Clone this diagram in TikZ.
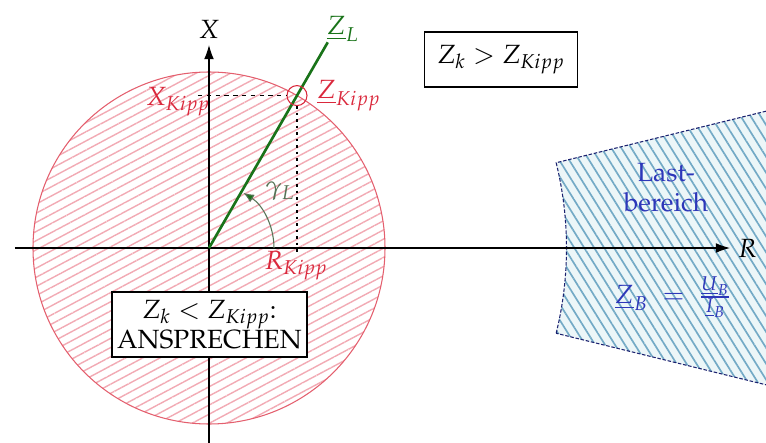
\documentclass[tikz,border=0pt]{standalone}
\usepackage[T1]{fontenc}
\usepackage{mathpazo}
\usetikzlibrary{positioning,arrows.meta,patterns.meta}
\definecolor{kipprot}{RGB}{218,40,60}
\definecolor{kreisrot}{RGB}{228,95,110}
\definecolor{schraffrot}{RGB}{242,170,180}
\definecolor{lgruen}{RGB}{25,115,25}
\definecolor{wgruen}{RGB}{85,115,85}
\definecolor{lastblau}{RGB}{45,55,185}
\definecolor{schraffblau}{RGB}{115,170,198}
\definecolor{grundblau}{RGB}{236,246,248}
\tikzset{
  achse/.style={draw=black, line width=0.6pt, -{Latex[length=8pt,width=5.5pt]}},
  kasten/.style={draw=black, fill=white, line width=0.7pt, align=center, inner sep=3pt},
  kreisfeld/.style={draw=kreisrot, line width=0.6pt,
    preaction={fill=white},
    pattern={Lines[angle=28,distance=4.6pt,line width=0.8pt]}, pattern color=schraffrot},
  lastfeld/.style={preaction={fill=grundblau},
    pattern={Lines[angle=-58,distance=4.8pt,line width=0.95pt]}, pattern color=schraffblau,
    postaction={draw=lastblau!60!black, line width=0.6pt, dash pattern=on 2pt off 1pt}},
  hilfslinie/.style={draw=black, line width=0.6pt, dash pattern=on 2.5pt off 2.5pt},
  punktlinie/.style={draw=black, line width=0.7pt, dash pattern=on 1.5pt off 2.2pt},
  rotlabel/.style={text=kipprot},
}

\begin{document}
\begin{tikzpicture}[font=\fontsize{15}{17}\selectfont]
  \useasboundingbox (-4.18,-3.9) rectangle (11.14,4.96);
  \coordinate (O) at (0,0);
  % Ansprechbereich (Kreis) und Lastbereich
  \path[kreisfeld] (O) circle [radius=3.52];
  \begin{scope}
    \clip (-4.18,-3.9) rectangle (11.14,4.96);
    \path[lastfeld] (-13.8:7.15) arc [start angle=-13.8, end angle=13.8, radius=7.15]
      -- (13.8:13) -- (-13.8:13) -- cycle;
  \end{scope}
  % Achsen
  \coordinate (xunten) at (0,-3.95);
  \coordinate (xoben) at (0,4.06);
  \coordinate (rlinks) at (-3.88,0);
  \coordinate (rrechts) at (10.42,0);
  \draw[achse] (xunten) -- (xoben);
  \draw[achse] (rlinks) -- (rrechts);
  \node (xlab) at (0,4.38) {$X$};
  \node[right=1pt of rrechts] (rlab) {$R$};
  % Leitungsgerade und Kipppunkt
  \coordinate (zlend) at (60:4.75);
  \draw[lgruen, line width=1.5pt] (O) -- (zlend);
  \node[above right=-3pt and -4pt of zlend, text=lgruen] (zllab) {$\underline{Z}_L$};
  \node[circle, draw=kipprot, line width=0.6pt, minimum size=0.4cm, inner sep=0pt] (zk) at (60:3.52) {};
  \node[right=2pt of zk, rotlabel] (zklab) {$\underline{Z}_{Kipp}$};
  \coordinate (xk) at (-0.22,0 |- zk.west);
  \coordinate (rk) at (zk.south |- O);
  \draw[hilfslinie] (xk) -- (zk.west);
  \draw[punktlinie] (zk.south) -- ([yshift=-3pt]rk);
  \node[rotlabel] (xklab) at (-0.62,2.92) {$X_{Kipp}$};
  \node[rotlabel] (rklab) at (1.74,-0.36) {$R_{Kipp}$};
  % Leitungswinkel
  \draw[wgruen, line width=0.6pt, -{Latex[length=6pt,width=5pt,fill=lgruen]}]
    (1.3,0) arc [start angle=0, end angle=58, radius=1.3];
  \node[text=wgruen] (gl) at (1.42,1.14) {$\gamma_L$};
  % Beschriftungen
  \node[kasten, minimum width=3.06cm, minimum height=1.1cm] (groesser) at (5.84,3.77)
    {$Z_k > Z_{Kipp}$};
  \node[kasten, minimum width=3.9cm, minimum height=1.3cm, inner sep=1pt] (kleiner) at (0.01,-1.53)
    {$Z_k < Z_{Kipp}$:\\ANSPRECHEN};
  \node[text=lastblau, align=center] (last) at (9.14,1.2) {Last-\\bereich};
  \node[text=lastblau] (zb) at (9.28,-0.98)
    {$\underline{Z}_B\;=\;\frac{\underline{U}_B}{\underline{I}_B}$};
\end{tikzpicture}
\end{document}
